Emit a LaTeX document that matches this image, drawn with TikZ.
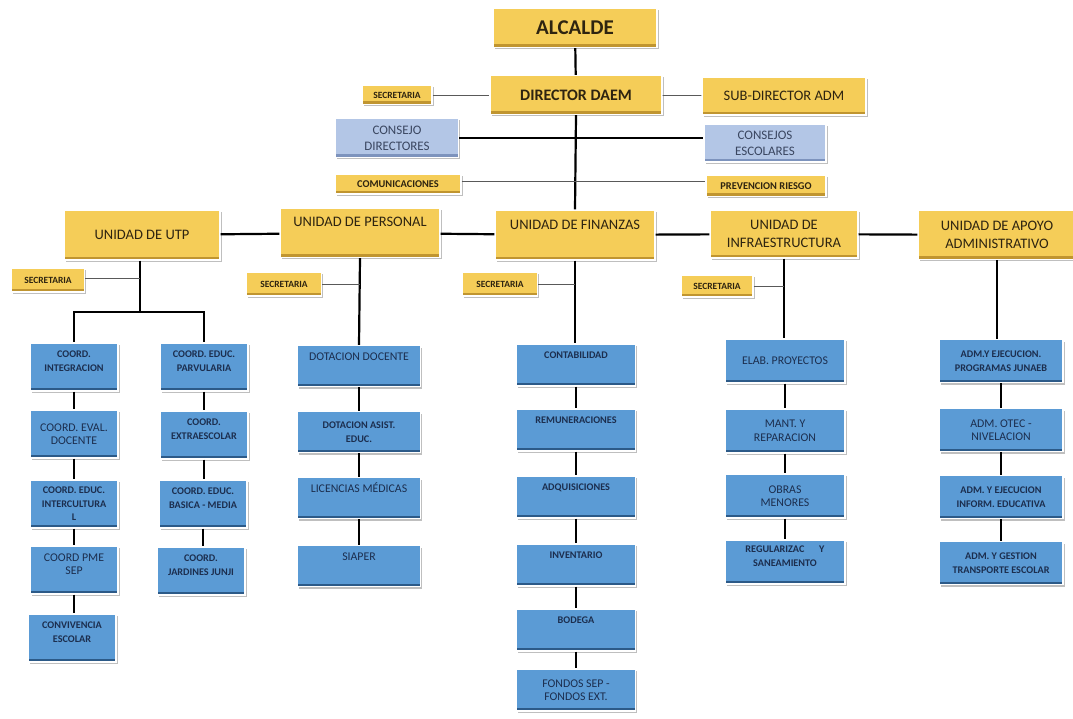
\documentclass[tikz,border=0pt]{standalone}
\usepackage{fontspec}
\setmainfont{Carlito}
\usetikzlibrary{shadows}
\definecolor{yfill}{HTML}{F5CD58}
\definecolor{ybot}{HTML}{C09530}
\definecolor{ytext}{HTML}{2E2410}
\definecolor{bfill}{HTML}{5B9BD5}
\definecolor{bbot}{HTML}{2C5A88}
\definecolor{btext}{HTML}{1C2E4E}
\definecolor{cfill}{HTML}{B3C6E6}
\definecolor{cbot}{HTML}{7D93BD}
\definecolor{ctext}{HTML}{3A4660}
\newcommand{\liftup}{\\[-2pt]\mbox{}}
\tikzset{
  box/.style={rectangle, draw=white, line width=1.2pt, align=center, inner xsep=2pt, inner ysep=3pt,
    drop shadow={shadow xshift=1.5pt, shadow yshift=-2pt, fill=black, opacity=0.25}},
  ybox/.style={box, fill=yfill, text=ytext,
    path picture={\fill[ybot] (path picture bounding box.south west) rectangle ([yshift=3pt]path picture bounding box.south east);}},
  bbox/.style={box, fill=bfill, text=btext,
    path picture={\fill[bbot] (path picture bounding box.south west) rectangle ([yshift=3pt]path picture bounding box.south east);}},
  cbox/.style={box, fill=cfill, text=ctext,
    path picture={\fill[cbot] (path picture bounding box.south west) rectangle ([yshift=3pt]path picture bounding box.south east);}},
  fbig/.style={font=\bfseries\fontsize{21}{23}\selectfont},
  fmidb/.style={font=\bfseries\fontsize{16}{18}\selectfont},
  fmid/.style={font=\fontsize{14.5}{18}\selectfont},
  fsec/.style={font=\bfseries\fontsize{9.5}{11}\selectfont},
  fcom/.style={font=\bfseries\fontsize{10.4}{12}\selectfont},
  fcon/.style={font=\fontsize{13}{16}\selectfont},
  fb/.style={font=\bfseries\fontsize{10.2}{13.5}\selectfont},
  fr/.style={font=\fontsize{11.8}{13.5}\selectfont},
  thickln/.style={line width=2.2pt, black},
  thinln/.style={line width=0.8pt, black!65},
}
\begin{document}
\begin{tikzpicture}[x=1pt,y=-1pt]
\useasboundingbox[fill=white] (0,0) rectangle (1073,719);
% top
\node[ybox,fbig,minimum width=164pt,minimum height=39pt] (alc) at (575,28) {ALCALDE};
\node[ybox,fmidb,minimum width=172pt,minimum height=39pt] (dir) at (576,95) {DIRECTOR DAEM};
\node[ybox,fsec,minimum width=70pt,minimum height=19pt] (sec0) at (397,95) {SECRETARIA};
\node[ybox,fmid,minimum width=164pt,minimum height=38pt] (sub) at (784,96) {SUB-DIRECTOR ADM};
\node[cbox,fcon,minimum width=123pt,minimum height=39pt] (cdir) at (397,138) {CONSEJO\\DIRECTORES};
\node[cbox,fcon,minimum width=122pt,minimum height=38pt] (cesc) at (765,143) {CONSEJOS\\ESCOLARES};
\node[ybox,fcom,minimum width=126pt,minimum height=20pt] (com) at (398,184) {COMUNICACIONES};
\node[ybox,fcom,minimum width=120pt,minimum height=21pt] (prev) at (766,186) {PREVENCION RIESGO};
% unidades
\node[ybox,fmid,minimum width=156pt,minimum height=50pt] (utp) at (142,235) {UNIDAD DE UTP};
\node[ybox,fmid,minimum width=160pt,minimum height=49pt,text height=14pt,text depth=27pt,inner ysep=4pt] (per) at (360,233) {UNIDAD DE PERSONAL};
\node[ybox,fmid,minimum width=160pt,minimum height=50pt,text height=16pt,text depth=26pt,inner ysep=4pt] (fin) at (575,235) {UNIDAD DE FINANZAS};
\node[ybox,fmid,minimum width=148pt,minimum height=48pt] (inf) at (784,234) {UNIDAD DE\\INFRAESTRUCTURA};
\node[ybox,fmid,minimum width=158pt,minimum height=49pt] (apo) at (997,235) {UNIDAD DE APOYO\\ADMINISTRATIVO};
% secretarias
\node[ybox,fsec,minimum width=73pt,minimum height=24pt] (s1) at (48,280) {SECRETARIA};
\node[ybox,fsec,minimum width=75pt,minimum height=24pt] (s2) at (284,284) {SECRETARIA};
\node[ybox,fsec,minimum width=75pt,minimum height=24pt] (s3) at (500,284) {SECRETARIA};
\node[ybox,fsec,minimum width=72pt,minimum height=22pt] (s4) at (717,286) {SECRETARIA};
% UTP columns
\begin{scope}[every node/.style={minimum width=88pt,minimum height=48pt}]
\node[bbox,fb] (u1) at (74,367) {COORD.\\INTEGRACION\liftup};
\node[bbox,fr] (u2) at (74,434) {COORD. EVAL.\\DOCENTE};
\node[bbox,fb] (u3) at (74,504) {COORD. EDUC.\\INTERCULTURA\\L};
\node[bbox,fr] (u4) at (74,570) {COORD PME\\SEP\liftup};
\node[bbox,fb] (u5) at (72,638) {CONVIVENCIA\\ESCOLAR\liftup};
\node[bbox,fb] (v1) at (204,367) {COORD. EDUC.\\PARVULARIA\liftup};
\node[bbox,fb] (v2) at (204,435) {COORD.\\EXTRAESCOLAR\liftup};
\node[bbox,fb] (v3) at (203,504) {COORD. EDUC.\\BASICA - MEDIA\liftup};
\node[bbox,fb] (v4) at (201,571) {COORD.\\JARDINES JUNJI\liftup};
\end{scope}
% Personal
\begin{scope}[every node/.style={minimum width=123pt,minimum height=41pt}]
\node[bbox,fr,text height=11pt,text depth=22pt,inner ysep=4pt] (p1) at (359,366) {DOTACION DOCENTE};
\node[bbox,fb] (p2) at (359,432) {DOTACION ASIST.\\EDUC.};
\node[bbox,fr,text height=11pt,text depth=22pt,inner ysep=4pt] (p3) at (359,498) {LICENCIAS MÉDICAS};
\node[bbox,fr,text height=11pt,text depth=22pt,inner ysep=4pt] (p4) at (359,566) {SIAPER};
\end{scope}
% Finanzas
\begin{scope}[every node/.style={minimum width=119pt,minimum height=42pt}]
\node[bbox,fb,text height=10pt,text depth=24pt,inner ysep=4pt] (f1) at (576,365) {CONTABILIDAD};
\node[bbox,fb,text height=10pt,text depth=24pt,inner ysep=4pt] (f2) at (576,430) {REMUNERACIONES};
\node[bbox,fb,text height=10pt,text depth=24pt,inner ysep=4pt] (f3) at (576,497) {ADQUISICIONES};
\node[bbox,fb,text height=10pt,text depth=24pt,inner ysep=4pt] (f4) at (576,565) {INVENTARIO};
\node[bbox,fb,text height=10pt,text depth=24pt,inner ysep=4pt] (f5) at (576,630) {BODEGA};
\node[bbox,fr] (f6) at (576,690) {FONDOS SEP -\\FONDOS EXT.};
\end{scope}
% Infraestructura
\begin{scope}[every node/.style={minimum width=120pt,minimum height=44pt}]
\node[bbox,fr] (i1) at (785,361) {ELAB. PROYECTOS};
\node[bbox,fr] (i2) at (785,431) {MANT. Y\\REPARACION};
\node[bbox,fr] (i3) at (785,496) {OBRAS\\MENORES};
\node[bbox,fb] (i4) at (785,562) {REGULARIZAC\quad\ \ Y\\SANEAMIENTO\liftup};
\end{scope}
% Apoyo
\begin{scope}[every node/.style={minimum width=124pt,minimum height=43pt}]
\node[bbox,fb] (a1) at (1001,361) {ADM.Y EJECUCION.\\PROGRAMAS JUNAEB};
\node[bbox,fr] (a2) at (1001,430) {ADM. OTEC -\\NIVELACION};
\node[bbox,fb] (a3) at (1001,497) {ADM. Y EJECUCION\\INFORM. EDUCATIVA};
\node[bbox,fb] (a4) at (1001,563) {ADM. Y GESTION\\TRANSPORTE ESCOLAR};
\end{scope}
% junctions
\coordinate (uj) at (140,312);
% connectors
\draw[thickln] (alc) -- (dir);
\draw[thickln] (dir.south) -- (fin.north);
\draw[thinln] (sec0) -- (dir);
\draw[thinln] (dir) -- (sub);
\draw[thickln] (cdir.east) -- (cdir.east -| cesc.west);
\draw[thinln] ([yshift=3pt]com.east) -- ([yshift=3pt]com.east -| prev.west);
\draw[thickln] (utp) -- (per);
\draw[thickln] (per) -- (fin);
\draw[thickln] (fin) -- (inf);
\draw[thickln] (inf) -- (apo);
\draw[thickln] (utp.south -| uj) -- (uj);
\draw[thinln] ([yshift=2pt]s1.east) -- ([yshift=2pt]s1.east -| uj);
\draw[thickln] (uj) -| (u1.north);
\draw[thickln] (uj) -| (v1.north);
\draw[thickln] (per.south) -- (p1.north);
\draw[thinln] (s2.east) -- (s2.east -| per.south);
\draw[thickln] (fin.south) -- (fin.south |- f1.north);
\draw[thinln] (s3.east) -- (s3.east -| fin.south);
\draw[thickln] (inf.south) -- (inf.south |- i1.north);
\draw[thinln] (s4.east) -- (s4.east -| inf.south);
\draw[thickln] (apo.south) -- (apo.south |- a1.north);
\foreach \a/\b in {u1/u2,u2/u3,u3/u4,u4/u5,v1/v2,v2/v3,v3/v4,p1/p2,p2/p3,p3/p4,f1/f2,f2/f3,f3/f4,f4/f5,f5/f6,i1/i2,i2/i3,i3/i4,a1/a2,a2/a3,a3/a4}
  \draw[thickln] (\a.south) -- (\a.south |- \b.north);
\end{tikzpicture}
\end{document}
